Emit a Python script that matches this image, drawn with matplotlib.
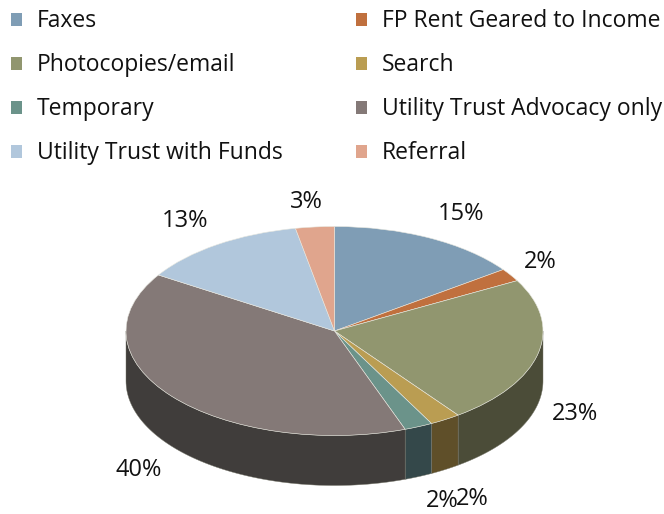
import numpy as np
import matplotlib
matplotlib.use("Agg")
import matplotlib.pyplot as plt
from matplotlib.patches import Rectangle

# -----------------------------
# DATA
# -----------------------------
categories = ["Faxes", "FP Rent Geared to Income", "Photocopies/email", "Search",
              "Temporary", "Utility Trust Advocacy only", "Utility Trust with Funds", "Referral"]
# slice sizes, the labels show them rounded
percent = [15.0, 2.0, 22.9, 2.4, 2.2, 39.5, 13.0, 3.0]
top_colors = ["#7F9DB5", "#C0703E", "#91966F", "#BA9D52",
              "#6B938A", "#847977", "#B1C7DC", "#E0A58D"]
side_colors = ["#3F4F5B", "#60381F", "#4B4C38", "#5F4F29",
               "#34484A", "#403D3B", "#59646E", "#705347"]

# label positions in image pixels (center of text)
label_px = [(461, 214), (540, 262), (575, 414), (442, 501),
            (472, 499), (139, 470), (185, 221), (306, 202)]

# -----------------------------
# LAYOUT (image pixels)
# -----------------------------
W, H = 664, 514
CX, CY = 334.5, 331
RX, RY = 208.5, 104.5
DEPTH = 50
FONT = "Open Sans"

fig = plt.figure(figsize=(W / 100, H / 100), dpi=100)
ax = fig.add_axes([0, 0, 1, 1])

wedges, _ = ax.pie(percent, colors=top_colors, startangle=90, counterclock=False,
                   wedgeprops={"edgecolor": "#E8E8E0", "linewidth": 0.4})
ax.set_aspect("auto")
# one data unit = RX px across and RY px down, so the unit circle turns into the ellipse
ax.set_xlim(-CX / RX, (W - CX) / RX)
ax.set_ylim(-(H - CY) / RY, CY / RY)
ax.axis("off")

# side wall of the disc, only the part of each slice facing the viewer
depth = DEPTH / RY
edges = np.cumsum([0] + percent) / 100 * 360
for i, c in enumerate(side_colors):
    a0 = max(edges[i], 90)
    a1 = min(edges[i + 1], 270)
    if a1 <= a0:
        continue
    t = np.radians(np.linspace(a0, a1, 80))
    x = np.sin(t)
    y = np.cos(t)
    ax.fill(np.r_[x, x[::-1]], np.r_[y, y[::-1] - depth], color=c, lw=0.3,
            edgecolor="#77776A", zorder=0.5)


def fx(px):
    return px / W


def fy(py):
    return 1 - py / H


# percent labels
for v, (px, py) in zip(percent, label_px):
    fig.text(fx(px), fy(py), f"{v:.0f}%", ha="center", va="center", fontsize=17,
             family=FONT, color="#111111")

# legend, two columns filled row by row
col_x = [11, 356]
row_y = [20, 64, 108, 152]
for i, (name, c) in enumerate(zip(categories, top_colors)):
    bx = col_x[i % 2]
    by = row_y[i // 2]
    fig.add_artist(Rectangle((fx(bx), fy(by + 6)), 11 / W, 13 / H, color=c,
                             transform=fig.transFigure, lw=0))
    fig.text(fx(bx + 26), fy(by + 1), name, ha="left", va="center", fontsize=16.5,
             family=FONT, color="#111111")

fig.savefig("out.png", dpi=100)
